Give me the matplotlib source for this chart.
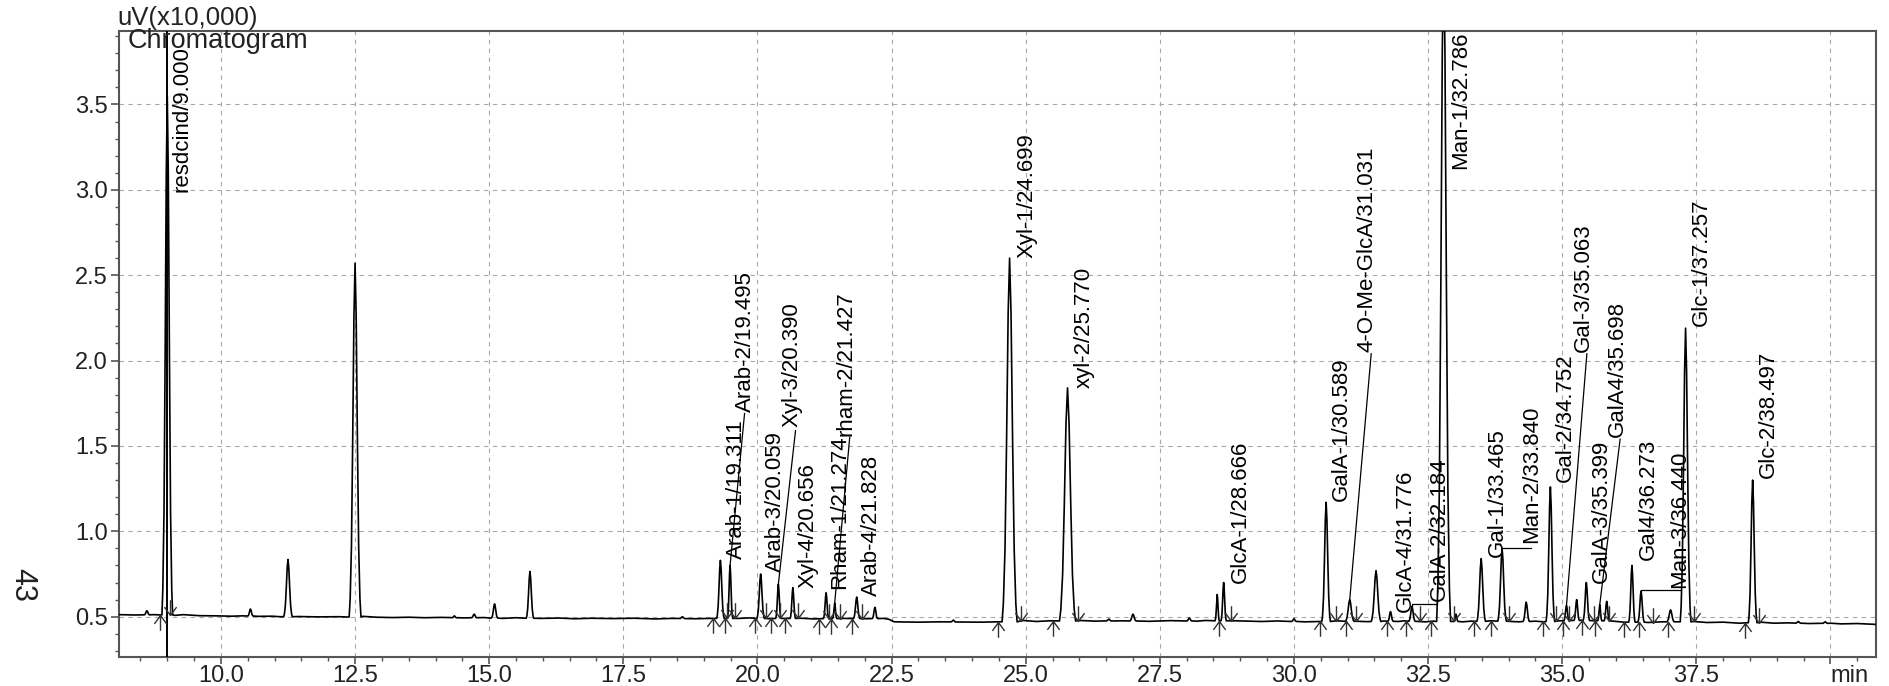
import numpy as np
import matplotlib
matplotlib.use("Agg")
import matplotlib.pyplot as plt
from matplotlib.path import Path
from matplotlib.ticker import MultipleLocator

plt.rcParams['font.family'] = ['Liberation Sans', 'DejaVu Sans']

# baseline drift of the detector signal (min, uV x10,000)
base_t = [8.10, 8.40, 8.75, 9.15, 9.30, 9.60, 9.90, 10.20, 10.40, 10.70, 10.95, 11.10, 11.45,
          11.80, 12.20, 12.38, 12.65, 12.90, 13.20, 13.50, 13.80, 14.10, 14.55, 14.90, 15.25,
          15.50, 15.95, 16.30, 16.60, 16.90, 17.30, 17.70, 18.10, 18.40, 18.85, 19.10, 19.65,
          19.85, 20.22, 20.82, 21.05, 21.62, 22.05, 22.35, 22.45, 22.55, 23.00, 23.40, 24.20,
          24.45, 24.95, 25.20, 25.45, 26.00, 26.30, 26.80, 27.30, 27.70, 28.20, 28.35, 28.90,
          29.40, 29.70, 30.20, 30.45, 30.80, 31.20, 31.38, 31.68, 31.95, 32.05, 32.45, 32.60,
          33.15, 33.30, 33.65, 34.05, 34.20, 34.50, 34.65, 34.95, 35.15, 35.35, 35.60, 35.95,
          36.15, 36.60, 36.85, 37.45, 37.70, 38.00, 38.30, 38.70, 38.95, 39.20, 39.60, 40.00,
          40.20, 40.50, 40.84]
base_v = [0.512, 0.510, 0.512, 0.508, 0.512, 0.506, 0.505, 0.503, 0.505, 0.502, 0.503, 0.500,
          0.501, 0.499, 0.500, 0.498, 0.502, 0.497, 0.495, 0.497, 0.494, 0.496, 0.493, 0.495,
          0.490, 0.494, 0.490, 0.492, 0.488, 0.491, 0.489, 0.491, 0.487, 0.490, 0.488, 0.490,
          0.490, 0.493, 0.488, 0.491, 0.487, 0.490, 0.488, 0.490, 0.485, 0.470, 0.468, 0.470,
          0.468, 0.470, 0.478, 0.472, 0.476, 0.478, 0.474, 0.476, 0.473, 0.477, 0.474, 0.478,
          0.476, 0.472, 0.475, 0.470, 0.472, 0.476, 0.473, 0.471, 0.475, 0.472, 0.476, 0.470,
          0.474, 0.470, 0.474, 0.476, 0.472, 0.470, 0.474, 0.470, 0.476, 0.478, 0.480, 0.476,
          0.474, 0.468, 0.466, 0.470, 0.472, 0.466, 0.468, 0.462, 0.468, 0.462, 0.464, 0.460,
          0.462, 0.458, 0.460, 0.455]

# peaks: retention time, apex, half base width, local baseline
peak_t = [8.62, 9.00, 10.55, 11.25, 12.50, 14.35, 14.72, 15.10, 15.76, 18.60,
          19.31, 19.49, 20.06, 20.39, 20.66, 21.28, 21.44, 21.85, 22.19, 23.65,
          24.70, 25.78, 26.55, 27.00, 28.05, 28.57, 28.69, 30.00, 30.60, 31.04,
          31.53, 31.80, 32.20, 32.79, 33.02, 33.49, 33.88, 34.33, 34.78, 35.08,
          35.27, 35.45, 35.70, 35.83, 36.30, 36.47, 37.02, 37.30, 38.55, 39.40, 39.90]
peak_h = [0.535, 3.55, 0.545, 0.835, 2.57, 0.505, 0.515, 0.575, 0.765, 0.500,
          0.83, 0.80, 0.75, 0.69, 0.67, 0.64, 0.58, 0.615, 0.555, 0.480,
          2.60, 1.84, 0.486, 0.515, 0.492, 0.63, 0.70, 0.488, 1.17, 0.60,
          0.77, 0.53, 0.56, 4.40, 0.515, 0.84, 0.90, 0.585, 1.26, 0.565,
          0.60, 0.70, 0.57, 0.59, 0.80, 0.65, 0.54, 2.19, 1.30, 0.472, 0.470]
peak_w = [0.05, 0.10, 0.05, 0.08, 0.11, 0.04, 0.05, 0.06, 0.07, 0.05,
          0.07, 0.05, 0.07, 0.05, 0.05, 0.05, 0.04, 0.06, 0.05, 0.05,
          0.14, 0.15, 0.05, 0.06, 0.05, 0.04, 0.05, 0.05, 0.08, 0.08,
          0.09, 0.05, 0.06, 0.13, 0.04, 0.08, 0.08, 0.06, 0.08, 0.05,
          0.05, 0.06, 0.04, 0.05, 0.06, 0.06, 0.07, 0.10, 0.08, 0.05, 0.05]
peak_b = [0.511, 0.510, 0.504, 0.500, 0.499, 0.494, 0.494, 0.492, 0.491, 0.489,
          0.490, 0.490, 0.490, 0.490, 0.490, 0.489, 0.489, 0.489, 0.489, 0.469,
          0.470, 0.475, 0.475, 0.475, 0.475, 0.476, 0.476, 0.472, 0.472, 0.473,
          0.472, 0.473, 0.473, 0.472, 0.472, 0.473, 0.474, 0.472, 0.472, 0.476,
          0.478, 0.478, 0.476, 0.476, 0.468, 0.468, 0.470, 0.470, 0.465, 0.462, 0.461]

# peak labels: text, centre of text (min), bottom of text
lbl_text = ['resdcind/9.000', 'Arab-1/19.311', 'Arab-2/19.495', 'Arab-3/20.059', 'Xyl-3/20.390',
            'Xyl-4/20.656', 'Rham-1/21.274', 'rham-2/21.427', 'Arab-4/21.828', 'Xyl-1/24.699',
            'xyl-2/25.770', 'GlcA-1/28.666', 'GalA-1/30.589', '4-O-Me-GlcA/31.031',
            'GlcA-4/31.776', 'GalA-2/32.184', 'Man-1/32.786', 'Gal-1/33.465', 'Man-2/33.840',
            'Gal-2/34.752', 'Gal-3/35.063', 'GalA-3/35.399', 'GalA4/35.698', 'Gal4/36.273',
            'Man-3/36.440', 'Glc-1/37.257', 'Glc-2/38.497']
lbl_x = [9.27, 19.61, 19.77, 20.33, 20.64, 20.95, 21.54, 21.66, 22.13, 25.02, 26.09, 29.00,
         30.88, 31.36, 32.08, 32.71, 33.10, 33.80, 34.43, 35.06, 35.40, 35.73, 36.03, 36.60,
         37.19, 37.59, 38.85]
lbl_y = [2.99, 0.84, 1.70, 0.76, 1.61, 0.67, 0.66, 1.56, 0.62, 2.60, 1.84, 0.70, 1.18, 2.05,
         0.53, 0.59, 3.12, 0.85, 0.93, 1.29, 2.05, 0.70, 1.55, 0.83, 0.67, 2.20, 1.31]

# leader lines for moved labels
leaders = [
    ([19.49, 19.76], [0.80, 1.69]),
    ([20.39, 20.71], [0.69, 1.59]),
    ([21.44, 21.72], [0.58, 1.55]),
    ([31.04, 31.44], [0.60, 2.04]),
    ([32.20, 32.20, 32.67, 32.67], [0.56, 0.575, 0.575, 0.59]),
    ([33.88, 34.42], [0.90, 0.90]),
    ([35.08, 35.46], [0.565, 2.04]),
    ([35.70, 36.08], [0.57, 1.54]),
    ([36.47, 36.47, 37.19], [0.65, 0.655, 0.655]),
]

# peak start / end marks
start_t = [8.86, 19.18, 19.40, 19.96, 20.25, 20.51, 21.14, 21.38, 21.76, 24.49, 25.51, 28.61,
           30.48, 30.97, 31.73, 32.08, 32.56, 33.36, 33.68, 34.64, 35.02, 35.37, 35.61, 36.16,
           36.43, 36.98, 38.41]
start_v = [0.51, 0.49, 0.49, 0.49, 0.49, 0.49, 0.489, 0.489, 0.489, 0.47, 0.476, 0.476,
           0.472, 0.473, 0.474, 0.473, 0.472, 0.473, 0.474, 0.472, 0.476, 0.478, 0.476, 0.468,
           0.468, 0.470, 0.465]
end_t = [9.06, 19.43, 19.58, 20.16, 20.42, 20.76, 21.33, 21.54, 21.94, 24.92, 25.97, 28.82,
         30.78, 31.16, 32.35, 32.99, 34.00, 34.88, 35.13, 35.59, 35.88, 36.69, 37.45, 38.67]
end_v = [0.508, 0.49, 0.49, 0.49, 0.49, 0.49, 0.489, 0.489, 0.489, 0.476, 0.476, 0.476,
         0.476, 0.473, 0.472, 0.472, 0.472, 0.472, 0.476, 0.476, 0.474, 0.466, 0.472, 0.466]

# gaussian-like outline of one peak (fraction of half width, fraction of height)
shape_dt = [-1.0, -0.83, -0.61, -0.40, -0.19, 0.0, 0.19, 0.40, 0.61, 0.83, 1.0]
shape_dv = [0.0, 0.05, 0.20, 0.50, 0.85, 1.0, 0.85, 0.50, 0.20, 0.05, 0.0]

pts = []
for t, v in zip(base_t, base_v):
    if not any(abs(t - pt) < pw for pt, pw in zip(peak_t, peak_w)):
        pts.append((t, v))
for pt, ph, pw, pb in zip(peak_t, peak_h, peak_w, peak_b):
    for a, b in zip(shape_dt, shape_dv):
        pts.append((pt + a * pw, pb + b * (ph - pb)))
pts.sort()
trace_t = [p[0] for p in pts]
trace_v = [p[1] for p in pts]

fig = plt.figure(figsize=(18.9, 6.86), dpi=100)
ax = fig.add_axes([0.06296, 0.04227, 0.92937, 0.91254])

ax.plot(trace_t, trace_v, color='black', lw=1.2, zorder=3)
ax.axvline(9.0, color='black', lw=1.4, zorder=3)

up = Path([(0, 0), (0, -1), (-0.4, -0.55), (0, 0), (0.4, -0.55)],
          [Path.MOVETO, Path.LINETO, Path.MOVETO, Path.LINETO, Path.LINETO])
down = Path([(0, 0), (0, 1), (-0.4, 0.55), (0, 0), (0.4, 0.55)],
            [Path.MOVETO, Path.LINETO, Path.MOVETO, Path.LINETO, Path.LINETO])
ax.plot(start_t, start_v, ls='none', marker=up, ms=22, mec='#333333', mew=1.0, mfc='none', zorder=4)
ax.plot(end_t, end_v, ls='none', marker=down, ms=22, mec='#333333', mew=1.0, mfc='none', zorder=4)

for xs, ys in leaders:
    ax.plot(xs, ys, color='black', lw=0.9, zorder=4)

for s, x, y in zip(lbl_text, lbl_x, lbl_y):
    ax.text(x, y, s, rotation=90, ha='center', va='bottom', fontsize=16, color='black', zorder=5)

ax.set_xlim(8.10, 40.84)
ax.set_ylim(0.264, 3.93)
xt = np.arange(10, 40.1, 2.5)
ax.set_xticks(xt)
ax.set_xticklabels(['%.1f' % v for v in xt[:-1]] + ['min'])
ax.get_xticklabels()[-1].set_horizontalalignment('left')
ax.xaxis.set_minor_locator(MultipleLocator(0.5))
ax.set_yticks([0.5, 1.0, 1.5, 2.0, 2.5, 3.0, 3.5])
ax.yaxis.set_minor_locator(MultipleLocator(0.1))
ax.tick_params(axis='x', which='major', direction='out', length=5, width=1.2,
               color='#555555', labelsize=17, pad=1, labelcolor='#222222')
ax.tick_params(axis='y', which='major', direction='out', length=6, width=1.2,
               color='#555555', labelsize=17, pad=2, labelcolor='#222222')
ax.tick_params(which='minor', direction='out', length=3, width=1.0, color='#555555')
ax.grid(which='major', color='#a8a8a8', linestyle=(0, (4, 4)), linewidth=0.8)
for sp in ax.spines.values():
    sp.set_color('#555555')
    sp.set_linewidth(1.5)

ax.text(0.005, 0.984, 'Chromatogram', transform=ax.transAxes, ha='left', va='center',
        fontsize=19.5, color='#222222')
fig.text(0.0619, 0.974, 'uV(x10,000)', ha='left', va='center', fontsize=18.5, color='#222222')
fig.text(0.0116, 0.147, '43', rotation=270, ha='center', va='center', fontsize=22, color='#222222')

fig.savefig('out.png', dpi=100)
